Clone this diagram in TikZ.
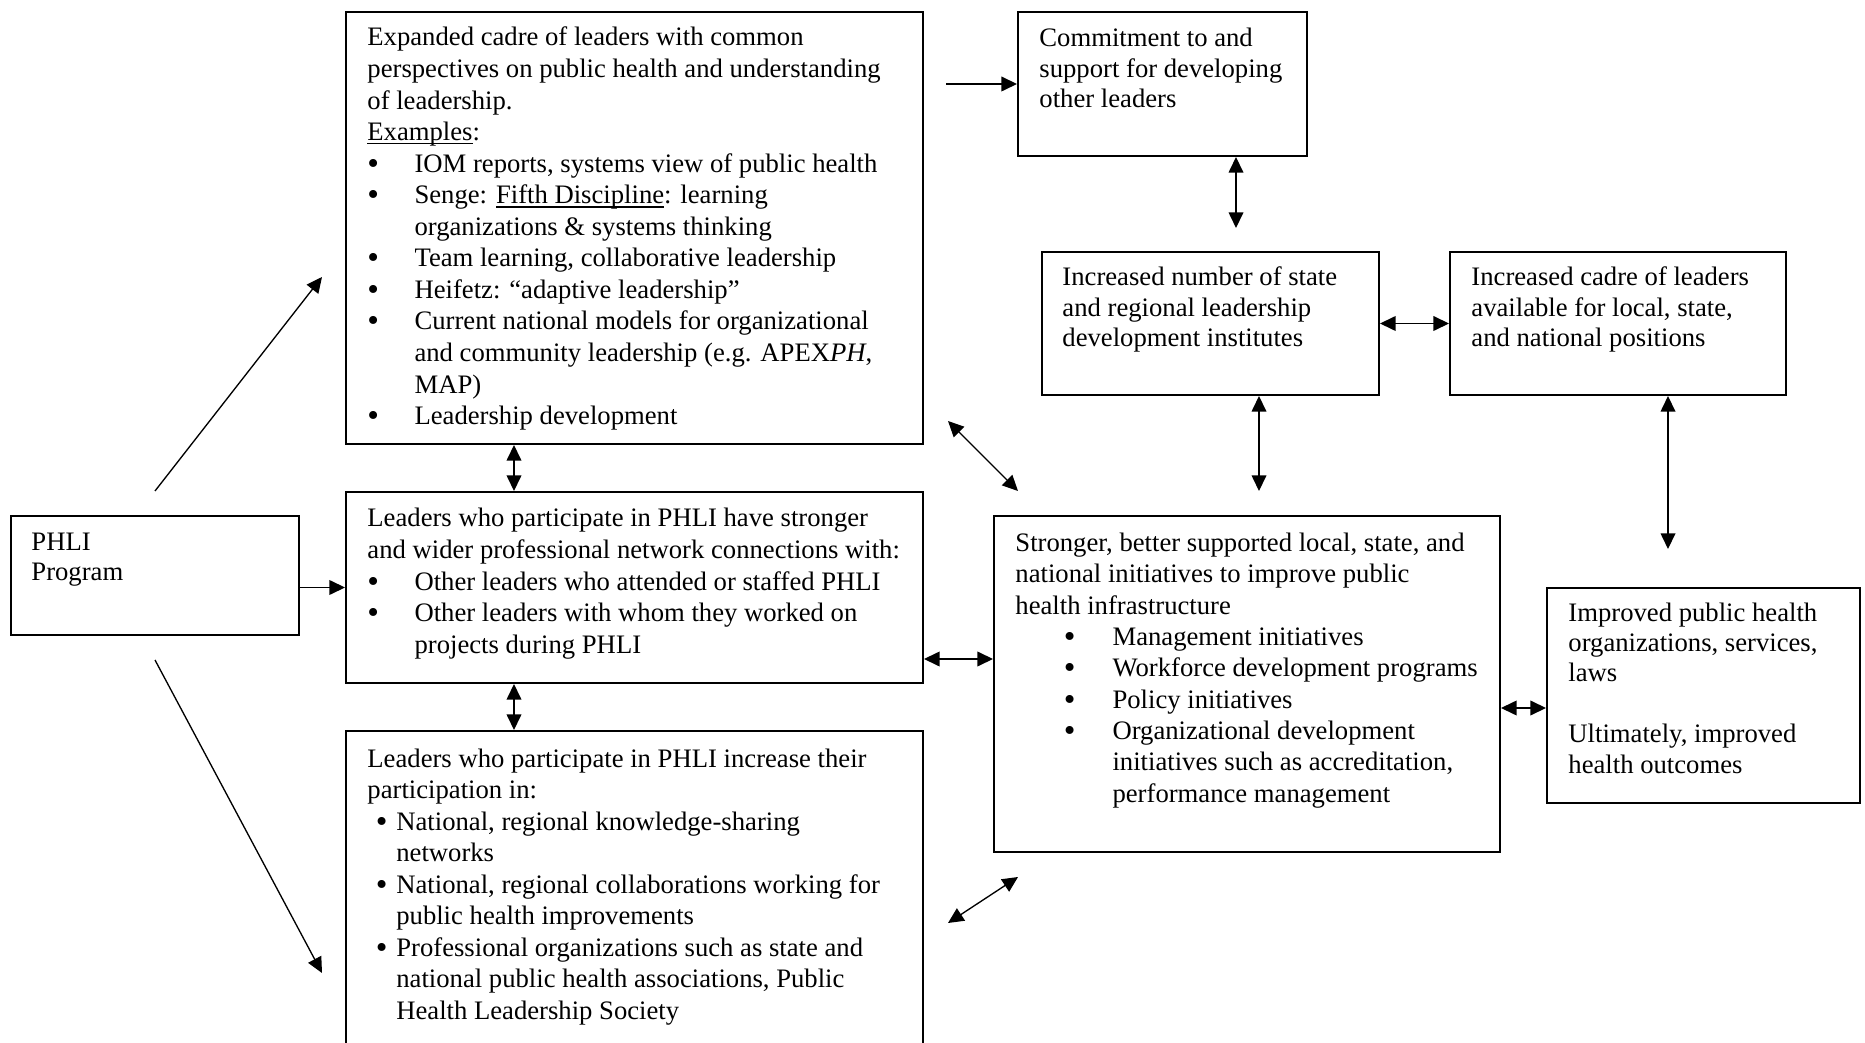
\documentclass[tikz,border=0pt]{standalone}
\usepackage{fontspec}
\setmainfont{Liberation Serif}
\usetikzlibrary{arrows.meta,fit}

% a slightly larger bullet, as set by the word processor
\newcommand\blt{\raisebox{-0.9pt}{\fontsize{15}{15}\selectfont\textbullet}}
% bullets and hanging indents for the three list styles
\newcommand\bA{\makebox[21.2pt][l]{\blt}}
\newcommand\iA{\hspace*{21.2pt}}
\newcommand\bF{\makebox[13pt][l]{\hspace{3.8pt}\blt}}
\newcommand\iF{\hspace*{13pt}}
\newcommand\bG{\makebox[43.7pt][l]{\hspace{21.8pt}\blt}}
\newcommand\iG{\hspace*{43.7pt}}
% underline that sits just below the baseline
\newcommand\ulin[1]{\setbox0\hbox{#1}\rlap{\rule[-1.7pt]{\wd0}{0.65pt}}\box0}
% left-aligned lines, top line on the node's base
\newcommand\lines[1]{\begin{tabular}[t]{@{}l@{}}#1\end{tabular}}

\begin{document}
\begin{tikzpicture}[x=0.45pt,y=-0.45pt,
  box/.style={draw, line width=0.9pt, inner sep=0pt},
  txt/.style={anchor=base west, inner sep=0pt, font=\fontsize{12}{14.2}\selectfont},
  txtb/.style={txt, font=\fontsize{12}{13.7}\selectfont},
  txtg/.style={txt, font=\fontsize{12}{14.1}\selectfont},
  link/.style={line width=0.6pt, -{Triangle[length=7pt,width=6.6pt]}},
  dlink/.style={line width=0.6pt, {Triangle[length=7pt,width=6.6pt]}-{Triangle[length=7pt,width=6.6pt]}}]

\useasboundingbox (0,0) rectangle (1865,1043);
\fill[white] (0,0) rectangle (1865,1043);
\clip (0,0) rectangle (1865,1043);

% boxes
\node[box, fit={(11,516) (299,635)}] (P) {};
\node[box, fit={(346,12) (923,444)}] (A) {};
\node[box, fit={(346,492) (923,683)}] (E) {};
\node[box, fit={(346,731) (923,1090)}] (F) {};
\node[box, fit={(1018,12) (1307,156)}] (B) {};
\node[box, fit={(1042,252) (1379,395)}] (C) {};
\node[box, fit={(1450,252) (1786,395)}] (D) {};
\node[box, fit={(994,516) (1500,852)}] (G) {};
\node[box, fit={(1547,588) (1860,803)}] (H) {};

% texts
\node[txtb] (Pt) at (31,550) {\lines{PHLI\\Program}};
\node[txt] (At) at (367,46) {\lines{Expanded cadre of leaders with common\\
perspectives on public health and understanding\\
of leadership.\\
\ulin{Examples}:\\
\bA IOM reports, systems view of public health\\
\bA Senge: \ulin{Fifth Discipline}: learning\\
\iA organizations \& systems thinking\\
\bA Team learning, collaborative leadership\\
\bA Heifetz: “adaptive leadership”\\
\bA Current national models for organizational\\
\iA and community leadership (e.g. APEX\textit{PH},\\
\iA MAP)\\
\bA Leadership development}};

\node[txt] (Et) at (367,527) {\lines{Leaders who participate in PHLI have stronger\\
and wider professional network connections with:\\
\bA Other leaders who attended or staffed PHLI\\
\bA Other leaders with whom they worked on\\
\iA projects during PHLI}};

\node[txt] (Ft) at (367,767) {\lines{Leaders who participate in PHLI increase their\\
participation in:\\
\bF National, regional knowledge-sharing\\
\iF networks\\
\bF National, regional collaborations working for\\
\iF public health improvements\\
\bF Professional organizations such as state and\\
\iF national public health associations, Public\\
\iF Health Leadership Society}};

\node[txtb] (Bt) at (1039,46.7) {\lines{Commitment to and\\support for developing\\other leaders}};
\node[txtb] (Ct) at (1062,286) {\lines{Increased number of state\\and regional leadership\\development institutes}};
\node[txtb] (Dt) at (1471,286) {\lines{Increased cadre of leaders\\available for local, state,\\and national positions}};
\node[txtg] (Gt) at (1015,551.5) {\lines{Stronger, better supported local, state, and\\
national initiatives to improve public\\
health infrastructure\\
\bG Management initiatives\\
\bG Workforce development programs\\
\bG Policy initiatives\\
\bG Organizational development\\
\iG initiatives such as accreditation,\\
\iG performance management}};
\node[txtb] (Ht) at (1568,621) {\lines{Improved public health\\organizations, services,\\laws\\ \\Ultimately, improved\\health outcomes}};

% free ends of connectors
\coordinate (pA0) at (155,491);
\coordinate (pA1) at (322,277);
\coordinate (pF0) at (155,660);
\coordinate (pF1) at (322,973);
\coordinate (xAE) at (514,0);
\coordinate (aB0) at (946,84);
\coordinate (bC1) at (1236,228);
\coordinate (cG1) at (1259,491);
\coordinate (dH1) at (1668,549);
\coordinate (aG0) at (948,421);
\coordinate (aG1) at (1018,491);
\coordinate (yEG) at (0,659);
\coordinate (yGH) at (0,708);
\coordinate (fG0) at (948,923);
\coordinate (fG1) at (1018,877);

% connectors
\draw[link] (pA0) -- (pA1);
\draw[link] (pF0) -- (pF1);
\draw[link] (P.east |- E.west) -- (E.west);
\draw[dlink] (A.south -| xAE) -- (E.north -| xAE);
\draw[dlink] (E.south -| xAE) -- (F.north -| xAE);
\draw[link] (aB0) -- (B.west);
\draw[dlink] (B.south -| bC1) -- (bC1);
\draw[dlink] (C.east) -- (D.west);
\draw[dlink] (C.south -| cG1) -- (cG1);
\draw[dlink] (D.south -| dH1) -- (dH1);
\draw[dlink] (aG0) -- (aG1);
\draw[dlink] (E.east |- yEG) -- (G.west |- yEG);
\draw[dlink] (G.east |- yGH) -- (H.west |- yGH);
\draw[dlink] (fG0) -- (fG1);
\end{tikzpicture}
\end{document}
